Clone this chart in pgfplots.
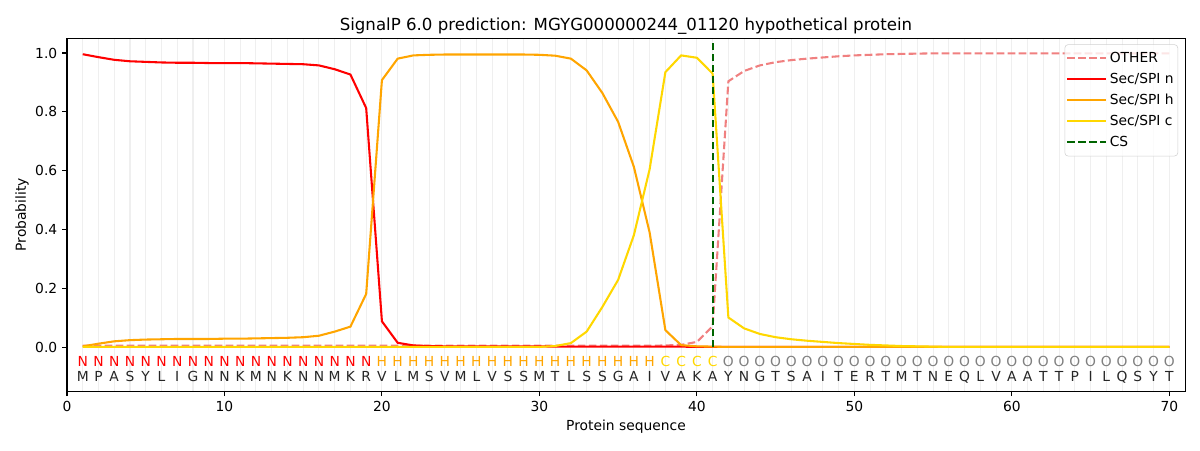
\documentclass[border=0pt]{standalone}
\usepackage{fontspec}
\setmainfont{DejaVu Sans}
\usepackage{pgfplots}
\pgfplotsset{compat=1.18}
\usepackage{pgfplotstable}
\definecolor{other}{HTML}{F08080}
\definecolor{secn}{HTML}{FF0000}
\definecolor{sech}{HTML}{FFA500}
\definecolor{secc}{HTML}{FFD700}
\definecolor{csc}{HTML}{006400}
\definecolor{gridc}{HTML}{EFEFEF}
\definecolor{ogray}{HTML}{808080}

\pgfplotstableread{
x res cls
1 M N
2 P N
3 A N
4 S N
5 Y N
6 L N
7 I N
8 G N
9 N N
10 N N
11 K N
12 M N
13 N N
14 K N
15 N N
16 N N
17 M N
18 K N
19 R N
20 V H
21 L H
22 M H
23 S H
24 V H
25 M H
26 L H
27 V H
28 S H
29 S H
30 M H
31 T H
32 L H
33 S H
34 S H
35 G H
36 A H
37 I H
38 V C
39 A C
40 K C
41 A C
42 Y O
43 N O
44 G O
45 T O
46 S O
47 A O
48 I O
49 T O
50 E O
51 R O
52 T O
53 M O
54 T O
55 N O
56 E O
57 Q O
58 L O
59 V O
60 A O
61 A O
62 T O
63 T O
64 P O
65 I O
66 L O
67 Q O
68 S O
69 Y O
70 T O
}\seqtable

\pgfplotstableread{
x other n h c
1 0.005 0.996 0.003 0.001
2 0.005 0.986 0.012 0.001
3 0.005 0.977 0.020 0.001
4 0.005 0.972 0.024 0.001
5 0.005 0.970 0.026 0.001
6 0.005 0.968 0.027 0.001
7 0.005 0.967 0.028 0.001
8 0.005 0.967 0.028 0.001
9 0.005 0.966 0.028 0.001
10 0.005 0.966 0.029 0.001
11 0.005 0.966 0.029 0.001
12 0.005 0.965 0.030 0.001
13 0.005 0.964 0.031 0.001
14 0.005 0.963 0.032 0.001
15 0.005 0.962 0.034 0.001
16 0.005 0.958 0.039 0.001
17 0.005 0.945 0.053 0.001
18 0.005 0.927 0.070 0.001
19 0.005 0.813 0.181 0.001
20 0.005 0.088 0.908 0.001
21 0.005 0.015 0.981 0.001
22 0.005 0.006 0.992 0.001
23 0.005 0.004 0.994 0.001
24 0.005 0.003 0.995 0.001
25 0.005 0.003 0.995 0.001
26 0.005 0.003 0.995 0.001
27 0.005 0.003 0.995 0.001
28 0.005 0.003 0.995 0.001
29 0.005 0.003 0.995 0.001
30 0.005 0.003 0.994 0.001
31 0.005 0.002 0.991 0.004
32 0.005 0.002 0.981 0.014
33 0.005 0.002 0.941 0.053
34 0.005 0.002 0.864 0.137
35 0.005 0.002 0.766 0.229
36 0.005 0.002 0.613 0.381
37 0.005 0.002 0.390 0.605
38 0.006 0.002 0.058 0.935
39 0.008 0.002 0.007 0.992
40 0.018 0.001 0.003 0.984
41 0.071 0.001 0.002 0.930
42 0.904 0.001 0.001 0.101
43 0.939 0.001 0.001 0.064
44 0.958 0.001 0.001 0.045
45 0.969 0.001 0.001 0.034
46 0.976 0.001 0.001 0.027
47 0.981 0.001 0.001 0.022
48 0.985 0.001 0.001 0.018
49 0.989 0.001 0.001 0.014
50 0.992 0.001 0.001 0.011
51 0.994 0.001 0.001 0.008
52 0.996 0.001 0.001 0.006
53 0.997 0.001 0.001 0.004
54 0.998 0.001 0.001 0.003
55 0.999 0.001 0.001 0.002
56 0.999 0.001 0.001 0.001
57 0.999 0.001 0.001 0.001
58 0.999 0.001 0.001 0.001
59 0.999 0.001 0.001 0.001
60 0.999 0.001 0.001 0.001
61 0.999 0.001 0.001 0.001
62 0.999 0.001 0.001 0.001
63 0.999 0.001 0.001 0.001
64 0.999 0.001 0.001 0.001
65 0.999 0.001 0.001 0.001
66 0.999 0.001 0.001 0.001
67 0.999 0.001 0.001 0.001
68 0.999 0.001 0.001 0.001
69 0.999 0.001 0.001 0.001
70 0.999 0.001 0.001 0.001
}\probtable

\begin{document}
\begin{tikzpicture}
\useasboundingbox (-48.4pt,-42.4pt) rectangle (818.8pt,282.8pt);
\begin{axis}[
  at={(0,0)}, anchor=south west,
  scale only axis, width=808pt, height=255.1pt,
  xmin=0, xmax=71, ymin=-0.15, ymax=1.05,
  xtick={0,10,20,30,40,50,60,70},
  ytick={0,0.2,0.4,0.6,0.8,1.0},
  minor xtick={1,...,70},
  minor tick length=0pt,
  xminorgrids,
  minor grid style={gridc, line width=0.8pt},
  tick align=outside,
  major tick length=3.5pt,
  xtick pos=left, ytick pos=left,
  every tick/.style={black, line width=0.8pt},
  axis line style={line width=0.8pt},
  /pgf/number format/assume math mode=true,
  yticklabel style={/pgf/number format/fixed, /pgf/number format/fixed zerofill, /pgf/number format/precision=1},
  tick label style={font=\fontsize{10}{12}\selectfont},
  xlabel={Protein sequence},
  ylabel={Probability},
  every axis x label/.style={at={(axis description cs:0.5,0)}, anchor=center, yshift=-25.3pt, font=\fontsize{10}{12}\selectfont},
  every axis y label/.style={at={([xshift=-32.5pt]axis description cs:0,0.5)}, rotate=90, anchor=center, font=\fontsize{10}{12}\selectfont},
  title={SignalP 6.0 prediction: MGYG000000244\_01120 hypothetical protein},
  every axis title/.style={at={(axis description cs:0.5,1)}, anchor=base, yshift=6pt, font=\fontsize{12}{14}\selectfont},
  legend cell align=left,
  legend image code/.code={\draw[#1] (0pt,0pt) -- (21pt,0pt); \path (0pt,0pt) -- (28pt,0pt);},
  legend style={at={(rel axis cs:1,1)}, anchor=north east, xshift=-5pt, yshift=-4.3pt,
    draw=black!18, rounded corners=2.5pt, fill=white, fill opacity=0.8, text opacity=1,
    font=\fontsize{10}{12}\selectfont, row sep=2.2pt, inner xsep=1pt, inner ysep=3.5pt},
]
\addplot[other, line width=1.5pt, dash pattern=on 5.55pt off 2.4pt] table[x=x, y=other] {\probtable};
\addlegendentry{OTHER}
\addplot[secn, line width=1.5pt] table[x=x, y=n] {\probtable};
\addlegendentry{Sec/SPI n}
\addplot[sech, line width=1.5pt] table[x=x, y=h] {\probtable};
\addlegendentry{Sec/SPI h}
\addplot[secc, line width=1.5pt] table[x=x, y=c] {\probtable};
\addlegendentry{Sec/SPI c}
\addplot[csc, line width=1.5pt, dash pattern=on 5.55pt off 2.4pt] coordinates {(41,0) (41,1.04)};
\addlegendentry{CS}

% class labels
\addplot[draw=none, forget plot, restrict x to domain=1:19, point meta=explicit symbolic,
  nodes near coords, nodes near coords style={anchor=base, inner sep=0pt, text=secn, font=\fontsize{10}{12}\selectfont}]
  table[x=x, y expr=-0.0645, meta=cls] {\seqtable};
\addplot[draw=none, forget plot, restrict x to domain=20:37, point meta=explicit symbolic,
  nodes near coords, nodes near coords style={anchor=base, inner sep=0pt, text=sech, font=\fontsize{10}{12}\selectfont}]
  table[x=x, y expr=-0.0645, meta=cls] {\seqtable};
\addplot[draw=none, forget plot, restrict x to domain=38:41, point meta=explicit symbolic,
  nodes near coords, nodes near coords style={anchor=base, inner sep=0pt, text=secc, font=\fontsize{10}{12}\selectfont}]
  table[x=x, y expr=-0.0645, meta=cls] {\seqtable};
\addplot[draw=none, forget plot, restrict x to domain=42:70, point meta=explicit symbolic,
  nodes near coords, nodes near coords style={anchor=base, inner sep=0pt, text=ogray, font=\fontsize{10}{12}\selectfont}]
  table[x=x, y expr=-0.0645, meta=cls] {\seqtable};
% residues
\addplot[draw=none, forget plot, point meta=explicit symbolic,
  nodes near coords, nodes near coords style={anchor=base, inner sep=0pt, text=black!85, font=\fontsize{10}{12}\selectfont}]
  table[x=x, y expr=-0.118, meta=res] {\seqtable};
\end{axis}
\end{tikzpicture}
\end{document}
